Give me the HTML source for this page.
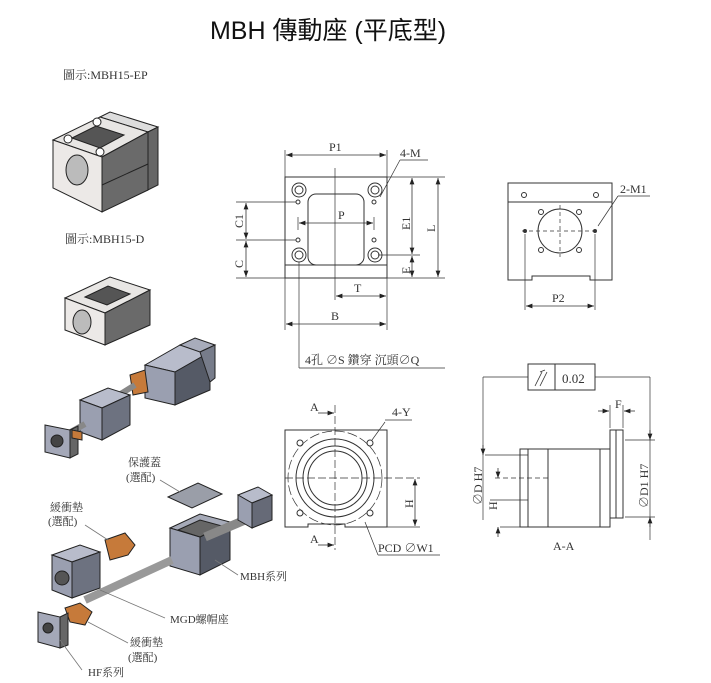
<!DOCTYPE html>
<html><head><meta charset="utf-8"><style>
body{margin:0;background:#fff;width:711px;height:683px;overflow:hidden}
svg{display:block}
text{font-family:"Liberation Serif","Noto Serif CJK SC",serif;fill:#333}
.t{font-size:12px}
</style></head><body>
<svg width="711" height="683" viewBox="0 0 711 683" xmlns="http://www.w3.org/2000/svg">
<defs>
<marker id="a" markerWidth="8" markerHeight="6" refX="8" refY="3" orient="auto-start-reverse"><path d="M0,0 L8,3 L0,6z" fill="#222"/></marker>
</defs>
<text x="328" y="39" text-anchor="middle" style="font-family:'Liberation Sans','Noto Sans CJK TC',sans-serif;font-size:25px;fill:#111">MBH 傳動座 (平底型)</text>
<text class="t" x="63" y="79">圖示:MBH15-EP</text>
<text class="t" x="65" y="243">圖示:MBH15-D</text>

<!-- EP block -->
<g stroke="#222" stroke-width="1">
<polygon points="100,117 110,112 158,127 148,132" fill="#ddd"/>
<polygon points="148,132 158,127 158,185 148,190" fill="#666"/>
<polygon points="53,140 100,117 148,132 102,157" fill="#e8e6e4"/>
<polygon points="53,140 102,157 102,212 53,188" fill="#ece9e7"/>
<polygon points="102,157 148,132 148,190 102,212" fill="#6a6a6a"/>
<polygon points="72,138 96,126 124,135 100,148" fill="#555"/>
<ellipse cx="77" cy="170" rx="11" ry="15" fill="#bbb"/>
<circle cx="68" cy="139" r="4" fill="#fff"/><circle cx="100" cy="152" r="4" fill="#fff"/><circle cx="97" cy="122" r="4" fill="#fff"/>
<line x1="102" y1="185" x2="148" y2="164"/>
</g>
<!-- D block -->
<g stroke="#222" stroke-width="1">
<polygon points="65,298 110,277 150,290 105,313" fill="#e8e6e4"/>
<polygon points="65,298 105,313 105,345 65,330" fill="#ece9e7"/>
<polygon points="105,313 150,290 150,325 105,345" fill="#6a6a6a"/>
<polygon points="85,297 108,286 130,294 107,305" fill="#555"/>
<ellipse cx="82" cy="322" rx="9" ry="12" fill="#bbb"/>
</g>
<!-- assembly 1 -->
<g stroke="#222" stroke-width="1">
<polygon points="145,365 180,345 210,352 175,372" fill="#b8bccb"/>
<polygon points="175,372 210,352 210,390 175,405" fill="#555a66"/>
<polygon points="145,365 175,372 175,405 145,398" fill="#9a9fb0"/>
<polygon points="180,345 195,338 215,345 200,352" fill="#a8acbb"/>
<polygon points="200,352 215,345 215,378 210,382" fill="#777c8a"/>
<polygon points="130,375 145,370 148,392 133,395" fill="#c67a3a"/>
<line x1="95" y1="410" x2="135" y2="385" stroke="#888" stroke-width="6"/>
<polygon points="80,400 108,388 130,395 102,408" fill="#b8bccb"/>
<polygon points="80,400 102,408 102,440 80,432" fill="#9a9fb0"/>
<polygon points="102,408 130,395 130,425 102,440" fill="#6d7280"/>
<line x1="60" y1="438" x2="85" y2="424" stroke="#888" stroke-width="6"/>
<polygon points="45,425 70,430 70,458 45,452" fill="#a4a8b8"/>
<polygon points="70,430 78,426 78,454 70,458" fill="#666"/>
<circle cx="57" cy="441" r="6" fill="#444"/>
<polygon points="72,430 82,432 82,440 72,438" fill="#c67a3a"/>
</g>
<!-- assembly 2 -->
<g stroke="#222" stroke-width="1">
<polygon points="168,497 198,483 222,494 192,508" fill="#9a9ea8"/>
<polygon points="170,528 200,514 230,522 200,537" fill="#a6aab8"/>
<polygon points="200,537 230,522 230,560 200,575" fill="#555a66"/>
<polygon points="170,528 200,537 200,575 170,566" fill="#9a9fb0"/>
<polygon points="178,530 200,520 222,526 200,537" fill="#666"/>
<line x1="205" y1="537" x2="245" y2="520" stroke="#888" stroke-width="9"/>
<polygon points="238,495 258,487 272,495 252,503" fill="#b8bccb"/>
<polygon points="252,503 272,495 272,520 252,528" fill="#666a77"/>
<polygon points="238,495 252,503 252,528 238,520" fill="#9a9fb0"/>
<line x1="85" y1="600" x2="172" y2="560" stroke="#999" stroke-width="8"/>
<polygon points="105,540 125,533 135,545 128,555 110,560" fill="#c67a3a"/>
<polygon points="52,555 80,545 100,552 72,562" fill="#b8bccb"/>
<polygon points="52,555 72,562 72,598 52,590" fill="#9a9fb0"/>
<polygon points="72,562 100,552 100,588 72,598" fill="#6d7280"/>
<circle cx="62" cy="578" r="7" fill="#555"/>
<polygon points="65,608 80,603 92,612 85,625 70,622" fill="#c67a3a"/>
<polygon points="38,612 60,617 60,648 38,642" fill="#a4a8b8"/>
<polygon points="60,617 68,613 68,645 60,648" fill="#666"/>
<circle cx="48" cy="628" r="5" fill="#444"/>
</g>
<g stroke="#777" stroke-width="0.8">
<line x1="160" y1="480" x2="180" y2="492"/>
<line x1="85" y1="525" x2="108" y2="540"/>
<line x1="215" y1="560" x2="238" y2="575"/>
<line x1="100" y1="590" x2="165" y2="618"/>
<line x1="88" y1="622" x2="128" y2="643"/>
<line x1="60" y1="640" x2="82" y2="670"/>
</g>
<g class="t" style="font-size:11px">
<text x="128" y="466">保護蓋</text><text x="126" y="481">(選配)</text>
<text x="50" y="511">緩衝墊</text><text x="48" y="525">(選配)</text>
<text x="240" y="580">MBH系列</text>
<text x="170" y="623">MGD螺帽座</text>
<text x="130" y="646">緩衝墊</text><text x="128" y="661">(選配)</text>
<text x="88" y="676">HF系列</text>
</g>

<!-- top view -->
<g stroke="#333" stroke-width="1" fill="none">
<rect x="285" y="177" width="102" height="101"/>
<line x1="285" y1="265" x2="387" y2="265"/>
<rect x="308" y="194" width="56" height="71" rx="8"/>
<circle cx="299" cy="190" r="7"/><circle cx="375" cy="190" r="7"/><circle cx="299" cy="255" r="7"/><circle cx="375" cy="255" r="7"/>
<circle cx="299" cy="190" r="4"/><circle cx="375" cy="190" r="4"/><circle cx="299" cy="255" r="4"/><circle cx="375" cy="255" r="4"/>
<circle cx="298" cy="202" r="2"/><circle cx="374" cy="202" r="2"/><circle cx="298" cy="240" r="2"/><circle cx="374" cy="240" r="2"/>
<g stroke-width="0.7">
<line x1="335" y1="168" x2="335" y2="300"/>
<line x1="285" y1="150" x2="285" y2="330"/><line x1="387" y1="150" x2="387" y2="330"/>
<line x1="236" y1="202" x2="296" y2="202"/><line x1="236" y1="240" x2="296" y2="240"/><line x1="236" y1="278" x2="285" y2="278"/>
<line x1="387" y1="177" x2="445" y2="177"/><line x1="378" y1="255" x2="420" y2="255"/><line x1="387" y1="278" x2="445" y2="278"/>
<line x1="298" y1="217" x2="298" y2="230"/><line x1="374" y1="217" x2="374" y2="230"/>
<line x1="299" y1="262" x2="299" y2="368"/><line x1="299" y1="368" x2="445" y2="368"/>
<line x1="380" y1="197" x2="400" y2="160"/><line x1="400" y1="160" x2="428" y2="160"/>
</g>
<g stroke-width="0.8" marker-start="url(#a)" marker-end="url(#a)">
<line x1="286" y1="155" x2="386" y2="155"/>
<line x1="299" y1="223" x2="373" y2="223"/>
<line x1="336" y1="296" x2="386" y2="296"/>
<line x1="286" y1="324" x2="386" y2="324"/>
<line x1="246" y1="203" x2="246" y2="239"/>
<line x1="246" y1="241" x2="246" y2="277"/>
<line x1="412" y1="178" x2="412" y2="254"/>
<line x1="412" y1="256" x2="412" y2="277"/>
<line x1="438" y1="178" x2="438" y2="277"/>
</g>
</g>
<g class="t">
<text x="329" y="151">P1</text><text x="400" y="157">4-M</text>
<text x="338" y="219">P</text><text x="354" y="292">T</text><text x="331" y="320">B</text>
<text transform="translate(243,228) rotate(-90)">C1</text>
<text transform="translate(243,268) rotate(-90)">C</text>
<text transform="translate(410,230) rotate(-90)">E1</text>
<text transform="translate(410,274) rotate(-90)">E</text>
<text transform="translate(435,232) rotate(-90)">L</text>
<text x="305" y="364">4孔 ∅S 鑽穿  沉頭∅Q</text>
</g>

<!-- side view -->
<g stroke="#333" stroke-width="1" fill="none">
<path d="M508,183 H612 V280 H590 V276 H532 V280 H508 Z"/>
<line x1="508" y1="202" x2="612" y2="202"/>
<circle cx="524" cy="195" r="2.5"/><circle cx="596" cy="195" r="2.5"/>
<circle cx="560" cy="231" r="22"/>
<circle cx="541" cy="212" r="2.5"/><circle cx="579" cy="212" r="2.5"/><circle cx="541" cy="250" r="2.5"/><circle cx="579" cy="250" r="2.5"/>
<g stroke-width="0.7" stroke-dasharray="4,3"><line x1="522" y1="231" x2="598" y2="231"/><line x1="560" y1="205" x2="560" y2="257"/></g>
<circle cx="525" cy="231" r="1.5" fill="#333"/><circle cx="595" cy="231" r="1.5" fill="#333"/>
<g stroke-width="0.7"><line x1="525" y1="234" x2="525" y2="310"/><line x1="595" y1="234" x2="595" y2="310"/>
<line x1="598" y1="226" x2="618" y2="196"/><line x1="618" y1="196" x2="650" y2="196"/></g>
<line x1="526" y1="306" x2="594" y2="306" stroke-width="0.8" marker-start="url(#a)" marker-end="url(#a)"/>
</g>
<text class="t" x="552" y="302">P2</text><text class="t" x="620" y="193">2-M1</text>

<!-- front view -->
<g stroke="#333" stroke-width="1" fill="none">
<path d="M285,430 H387 V527 H345 V524 H308 V527 H285 Z"/>
<circle cx="335" cy="478" r="47" stroke-dasharray="10,3" stroke-width="0.7"/>
<circle cx="335" cy="478" r="39"/><circle cx="335" cy="478" r="32"/><circle cx="335" cy="478" r="27"/>
<circle cx="300" cy="443" r="3"/><circle cx="370" cy="443" r="3"/><circle cx="300" cy="513" r="3"/><circle cx="370" cy="513" r="3"/>
<g stroke-width="0.7">
<line x1="335" y1="405" x2="335" y2="550" stroke-dasharray="8,3"/>
<line x1="285" y1="478" x2="420" y2="478" stroke-dasharray="8,3"/>
<line x1="387" y1="527" x2="420" y2="527"/>
<line x1="372" y1="440" x2="385" y2="422"/><line x1="385" y1="420" x2="412" y2="420"/>
<line x1="365" y1="522" x2="378" y2="555"/><line x1="378" y1="555" x2="440" y2="555"/>
</g>
<line x1="415" y1="479" x2="415" y2="526" stroke-width="0.8" marker-start="url(#a)" marker-end="url(#a)"/>
<line x1="318" y1="413" x2="334" y2="413" stroke-width="0.8" marker-end="url(#a)"/>
<line x1="318" y1="545" x2="334" y2="545" stroke-width="0.8" marker-end="url(#a)"/>
</g>
<g class="t"><text x="310" y="411">A</text><text x="310" y="543">A</text><text x="392" y="416">4-Y</text>
<text x="378" y="552">PCD ∅W1</text><text transform="translate(413,508) rotate(-90)">H</text></g>

<!-- section A-A -->
<g stroke="#333" stroke-width="1" fill="none">
<rect x="520" y="449" width="90" height="78"/>
<line x1="548" y1="449" x2="548" y2="527"/><line x1="528" y1="449" x2="528" y2="527"/>
<line x1="600" y1="449" x2="600" y2="527"/>
<rect x="610" y="430" width="13" height="88"/>
<line x1="616" y1="430" x2="616" y2="518"/>
<rect x="528" y="364" width="67" height="26"/><line x1="555" y1="364" x2="555" y2="390"/>
<path d="M535,386 L542,372 M540,386 L547,372 M540,372 L545,370" stroke-width="0.8"/>
<g stroke-width="0.7">
<line x1="483" y1="377" x2="528" y2="377"/><line x1="483" y1="377" x2="483" y2="520"/>
<line x1="595" y1="377" x2="650" y2="377"/><line x1="650" y1="377" x2="650" y2="540"/>
<line x1="485" y1="455" x2="528" y2="455"/><line x1="490" y1="500" x2="528" y2="500"/>
<line x1="495" y1="478" x2="548" y2="478" stroke-dasharray="5,3"/>
<line x1="625" y1="440" x2="655" y2="440"/><line x1="625" y1="517" x2="655" y2="517"/>
<line x1="610" y1="405" x2="610" y2="428"/><line x1="623" y1="405" x2="623" y2="428"/>
<line x1="520" y1="527" x2="500" y2="527"/>
</g>
<line x1="483" y1="445" x2="483" y2="455" stroke-width="0.8" marker-end="url(#a)"/>
<line x1="498" y1="468" x2="498" y2="478" stroke-width="0.8" marker-end="url(#a)"/>
<line x1="498" y1="537" x2="498" y2="527" stroke-width="0.8" marker-end="url(#a)"/>
<line x1="650" y1="430" x2="650" y2="440" stroke-width="0.8" marker-end="url(#a)"/>
<line x1="650" y1="527" x2="650" y2="517" stroke-width="0.8" marker-end="url(#a)"/>
<line x1="598" y1="411" x2="609" y2="411" stroke-width="0.8" marker-end="url(#a)"/>
<line x1="635" y1="411" x2="624" y2="411" stroke-width="0.8" marker-end="url(#a)"/>
</g>
<g class="t"><text x="562" y="383" style="font-size:13px">0.02</text><text x="615" y="408">F</text>
<text transform="translate(482,505) rotate(-90)">∅D H7</text>
<text transform="translate(497,510) rotate(-90)">H</text>
<text transform="translate(648,508) rotate(-90)">∅D1 H7</text>
<text x="553" y="550">A-A</text></g>
</svg>
</body></html>
